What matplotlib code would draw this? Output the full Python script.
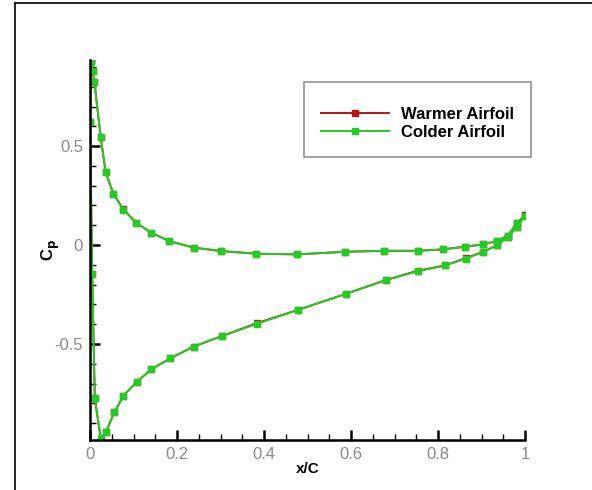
import matplotlib
matplotlib.use("Agg")
import matplotlib.pyplot as plt
from matplotlib.lines import Line2D
from matplotlib.ticker import MultipleLocator

plt.rcParams["font.family"] = ["Liberation Sans", "DejaVu Sans"]

# surface points, leading edge -> trailing edge
x_upper = [0.002, 0.006, 0.010, 0.0245, 0.036, 0.054, 0.077, 0.106, 0.141,
           0.182, 0.238, 0.301, 0.382, 0.477, 0.586, 0.677, 0.753, 0.812,
           0.863, 0.903, 0.935, 0.960, 0.982, 1.0]
cp_upper_cold = [0.925, 0.88, 0.825, 0.547, 0.367, 0.258, 0.178, 0.113, 0.062,
                 0.020, -0.013, -0.030, -0.044, -0.047, -0.034, -0.029, -0.029,
                 -0.022, -0.008, 0.003, 0.020, 0.047, 0.113, 0.148]
cp_upper_warm = [0.935, 0.88, 0.825, 0.547, 0.367, 0.258, 0.180, 0.113, 0.062,
                 0.020, -0.013, -0.030, -0.044, -0.047, -0.034, -0.029, -0.029,
                 -0.022, -0.008, 0.003, 0.020, 0.047, 0.113, 0.150]

x_lower = [0.002, 0.0, 0.005, 0.011, 0.025, 0.037, 0.056, 0.077, 0.107, 0.141,
           0.185, 0.238, 0.303, 0.383, 0.479, 0.589, 0.680, 0.753, 0.816,
           0.864, 0.904, 0.935, 0.960, 0.982, 1.0]
cp_lower_cold = [0.925, 0.623, -0.146, -0.774, -0.975, -0.943, -0.845, -0.761,
                 -0.692, -0.628, -0.572, -0.513, -0.460, -0.399, -0.327, -0.246,
                 -0.177, -0.133, -0.103, -0.069, -0.034, -0.002, 0.040, 0.092,
                 0.148]
cp_lower_warm = [0.935, 0.623, -0.146, -0.774, -0.985, -0.943, -0.845, -0.761,
                 -0.692, -0.628, -0.572, -0.513, -0.460, -0.395, -0.327, -0.246,
                 -0.177, -0.130, -0.103, -0.066, -0.034, -0.002, 0.040, 0.092,
                 0.150]

red = "#b81418"
green = "#22cc22"

fig = plt.figure(figsize=(5.92, 4.9), dpi=100)
ax = fig.add_axes([90 / 592, 1 - 440 / 490, 435 / 592, 380 / 490])

style = dict(marker="s", markersize=4, linewidth=1.4)
ax.plot(x_upper, cp_upper_warm, color=red, label="Warmer Airfoil", **style)
ax.plot(x_lower, cp_lower_warm, color=red, **style)
ax.plot(x_upper, cp_upper_cold, color=green, label="Colder Airfoil", **style)
ax.plot(x_lower, cp_lower_cold, color=green, **style)

ax.set_xlim(0, 1)
ax.set_ylim(-0.985, 0.935)
ax.xaxis.set_minor_locator(MultipleLocator(0.05))
ax.yaxis.set_minor_locator(MultipleLocator(0.1))
ax.set_xticks([0, 0.2, 0.4, 0.6, 0.8, 1.0])
ax.set_xticklabels(["0", "0.2", "0.4", "0.6", "0.8", "1"])
ax.set_yticks([-0.5, 0, 0.5])
ax.set_yticklabels(["-0.5", "0", "0.5"])

ax.spines["top"].set_visible(False)
ax.spines["right"].set_visible(False)
ax.spines["left"].set_linewidth(1.8)
ax.spines["bottom"].set_linewidth(1.8)
ax.tick_params(which="major", direction="in", length=7, width=1.8,
               labelsize=12, labelcolor="#8a8a8a", pad=5)
ax.tick_params(which="minor", direction="in", length=4, width=1)

ax.set_xlabel("x/C", fontsize=11, fontweight="bold", labelpad=0)
ax.set_ylabel("C$_\\mathbf{p}$", fontsize=12, fontweight="bold")
ax.yaxis.set_label_coords(-28 / 435, 0.5)

leg = ax.legend(loc="upper left", bbox_to_anchor=(206 / 435, 1 - 14 / 380),
                frameon=True, fancybox=False, handlelength=4.1,
                borderpad=1.0, labelspacing=0.22, handletextpad=0.7,
                prop={"weight": "bold", "size": 12},
                title=" ", title_fontsize=3)
leg.get_frame().set_edgecolor("#777777")
leg.get_frame().set_linewidth(1.2)
for h in leg.legend_handles:
    h.set_markersize(4)

# page frame lines
fig.add_artist(Line2D([15 / 592, 1], [1 - 3 / 490, 1 - 3 / 490],
                      transform=fig.transFigure, color="black", linewidth=1.2))
fig.add_artist(Line2D([15 / 592, 15 / 592], [0, 1 - 3 / 490],
                      transform=fig.transFigure, color="black", linewidth=1.2))

fig.savefig("out.png", dpi=100)
